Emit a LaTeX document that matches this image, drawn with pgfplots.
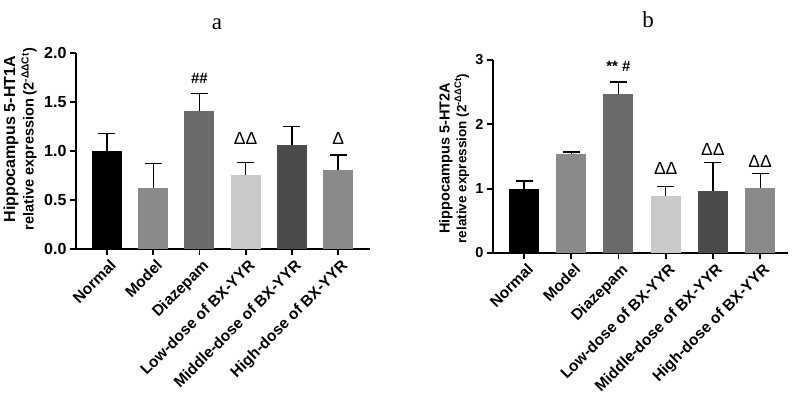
\documentclass[border=0pt]{standalone}
\usepackage{pgfplots}
\pgfplotsset{compat=1.18}
\usepackage{fontspec}
\setmainfont{Liberation Sans}
\newfontfamily\seriffont{Liberation Serif}
\definecolor{gNormal}{HTML}{000000}
\definecolor{gModel}{HTML}{8A8A8A}
\definecolor{gDiaz}{HTML}{6A6A6A}
\definecolor{gLow}{HTML}{C9C9C9}
\definecolor{gMid}{HTML}{4B4B4B}
\definecolor{gHigh}{HTML}{8A8A8A}
\tikzset{tri/.style={font=\fontsize{17.5}{17}\selectfont, inner sep=0pt}}
\pgfplotsset{
  panel/.style={
    scale only axis,
    axis x line*=bottom, axis y line*=left,
    bar width=30pt,
    xtick={0,1,2,3,4,5},
    xticklabels={Normal,Model,Diazepam,Low-dose of BX-YYR,Middle-dose of BX-YYR,High-dose of BX-YYR},
    x tick label style={rotate=45, anchor=north east, inner sep=1pt, yshift=-3pt, font=\fontsize{15.5}{16}\selectfont\bfseries},
    y tick label style={font=\fontsize{16}{16}\selectfont\bfseries},
    /pgf/number format/assume math mode=true,
    tick align=outside, major tick length=6pt,
    axis line style={line width=1.8pt},
    tick style={line width=1.8pt, black},
    ymin=0, clip=false,
  },
  eb/.style={error bars/.cd, y dir=plus, y explicit,
    error bar style={draw=black, line width=1.3pt},
    error mark options={rotate=90, mark size=8.5pt, draw=black, line width=1.3pt}},
}
\begin{document}
\begin{tikzpicture}
\useasboundingbox (0,0) rectangle (800pt,401pt);
\node[anchor=base, font=\seriffont\fontsize{23}{23}\selectfont] at (217pt,371pt) {a};
\node[anchor=base, font=\seriffont\fontsize{23}{23}\selectfont] at (648pt,373pt) {b};
% Panel a
\begin{axis}[panel,
  at={(76pt,152pt)}, anchor=south west, width=294pt, height=196pt,
  xmin=-0.67, xmax=5.69, ymax=2.0,
  ytick={0,0.5,1.0,1.5,2.0},
  yticklabel style={/pgf/number format/fixed, /pgf/number format/fixed zerofill, /pgf/number format/precision=1},
  ylabel={{\fontsize{16}{16}\selectfont Hippocampus 5-HT1A}\\[2pt]{\fontsize{14.5}{15}\selectfont relative expression (2\textsuperscript{-ΔΔCt})}},
  ylabel style={font=\bfseries, align=center, at={(axis description cs:-0.19,0.56)}, anchor=center},
]
\addplot[ybar, fill=gNormal, draw=none, eb] coordinates {(0,1.00) +- (0,0.18)};
\addplot[ybar, fill=gModel, draw=none, eb] coordinates {(1,0.62) +- (0,0.25)};
\addplot[ybar, fill=gDiaz, draw=none, eb] coordinates {(2,1.41) +- (0,0.18)};
\addplot[ybar, fill=gLow, draw=none, eb] coordinates {(3,0.75) +- (0,0.13)};
\addplot[ybar, fill=gMid, draw=none, eb] coordinates {(4,1.06) +- (0,0.19)};
\addplot[ybar, fill=gHigh, draw=none, eb] coordinates {(5,0.81) +- (0,0.15)};
\node[font=\fontsize{15}{15}\selectfont\bfseries] at (axis cs:2,1.74) {\#\#};
\node[tri] at (axis cs:3,1.13) {ΔΔ};
\node[tri] at (axis cs:5,1.13) {Δ};
\end{axis}
% Panel b
\begin{axis}[panel,
  at={(493pt,148pt)}, anchor=south west, width=295pt, height=193pt,
  xmin=-0.657, xmax=5.59, ymax=3,
  ytick={0,1,2,3},
  y tick label style={font=\fontsize{14.5}{14.5}\selectfont\bfseries},
  ylabel={{\fontsize{14.5}{15}\selectfont Hippocampus 5-HT2A}\\[1pt]{\fontsize{13.5}{14}\selectfont relative expression (2\textsuperscript{-ΔΔCt})}},
  ylabel style={font=\bfseries, align=center, at={(axis description cs:-0.132,0.49)}, anchor=center},
]
\addplot[ybar, fill=gNormal, draw=none, eb] coordinates {(0,1.00) +- (0,0.12)};
\addplot[ybar, fill=gModel, draw=none, eb] coordinates {(1,1.54) +- (0,0.03)};
\addplot[ybar, fill=gDiaz, draw=none, eb] coordinates {(2,2.47) +- (0,0.19)};
\addplot[ybar, fill=gLow, draw=none, eb] coordinates {(3,0.88) +- (0,0.15)};
\addplot[ybar, fill=gMid, draw=none, eb] coordinates {(4,0.97) +- (0,0.44)};
\addplot[ybar, fill=gHigh, draw=none, eb] coordinates {(5,1.01) +- (0,0.23)};
\node[font=\fontsize{15}{15}\selectfont\bfseries] at (axis cs:2,2.9) {** \#};
\node[tri] at (axis cs:3,1.32) {ΔΔ};
\node[tri] at (axis cs:4,1.61) {ΔΔ};
\node[tri] at (axis cs:5,1.43) {ΔΔ};
\end{axis}
\end{tikzpicture}
\end{document}
